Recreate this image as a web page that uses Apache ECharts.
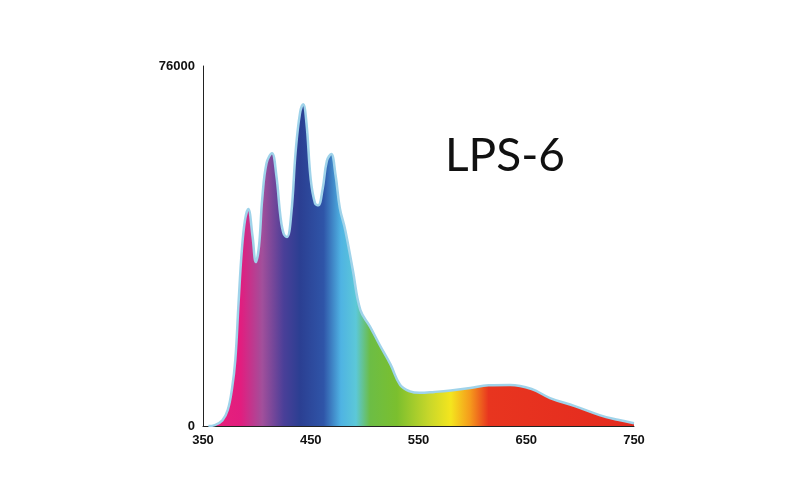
<!DOCTYPE html>
<html><head><meta charset="utf-8">
<script src="https://cdn.jsdelivr.net/npm/echarts@6/dist/echarts.min.js"></script>
<style>html,body{margin:0;background:#fff}#c{width:800px;height:494px}</style></head>
<body><div id="c"></div>
<script>
const wavelengths=[355,361,368,373,377,380,383,386,389,392,396,399,402,405,409,414,418,422,425,428,432,436,440,443,446,450,454,457,461,465,469,473,477,482,489,496,505,514,524,533,542,551,565,580,598,615,635,655,672,695,718,735,750];
const intensity=[0,200,1200,3400,8000,14000,26000,37000,43500,45800,40000,34600,38000,48000,55500,57600,53000,44000,40500,39900,45000,58000,66000,67900,64000,52000,47000,46600,50000,56000,57400,53000,46000,41400,33000,24500,21000,17100,13000,8650,7300,7000,7200,7500,8000,8600,8650,7800,5900,4200,2300,1300,600];
const xTicks=[350,450,550,650,750];
const yTicks=[0,76000];
const stopsNm=[[360,'#e8207a'],[385,'#e21d7f'],[405,'#a24f9b'],[425,'#4a3f98'],[440,'#2b3f92'],[462,'#2f55a8'],[478,'#4fb3e3'],[492,'#5cc8d8'],[505,'#6cbd45'],[530,'#7bbf2e'],[560,'#c8d72a'],[580,'#f4e51e'],[598,'#f59a1c'],[615,'#e8351f'],[750,'#e42a1f']];
const lo=355,hi=750;
const chart=echarts.init(document.getElementById('c'));
chart.setOption({
 animation:false,
 title:{text:'LPS-6',left:440,top:128,textStyle:{fontFamily:'Lato',fontSize:46,fontWeight:'normal',color:'#111'}},
 grid:{left:203,right:166,top:66,bottom:68},
 xAxis:{type:'value',min:350,max:750,interval:100,
  axisLine:{lineStyle:{color:'#222',width:1}},axisTick:{show:false},splitLine:{show:false},
  axisLabel:{color:'#111',fontWeight:'bold',fontSize:13,fontFamily:'Arial'}},
 yAxis:{type:'value',min:0,max:76000,interval:76000,
  axisLine:{show:true,lineStyle:{color:'#222',width:1}},axisTick:{show:false},splitLine:{show:false},
  axisLabel:{color:'#111',fontWeight:'bold',fontSize:13,fontFamily:'Arial',
   formatter:v=>yTicks.includes(v)?String(v):''}},
 series:[{type:'line',smooth:0.4,symbol:'none',
  data:wavelengths.map((w,i)=>[w,intensity[i]]),
  lineStyle:{color:'#9fd3ea',width:2.5},
  areaStyle:{opacity:1,color:new echarts.graphic.LinearGradient(0,0,1,0,
    stopsNm.map(s=>({offset:(s[0]-lo)/(hi-lo),color:s[1]})))}}]
});
</script></body></html>
